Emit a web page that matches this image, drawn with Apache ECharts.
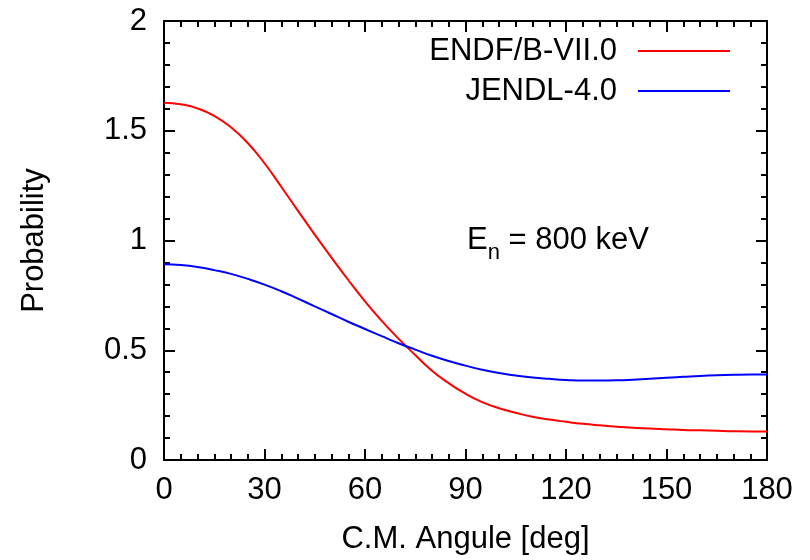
<!DOCTYPE html>
<html>
<head>
<meta charset="utf-8">
<script src="https://cdn.jsdelivr.net/npm/echarts@6/dist/echarts.min.js"></script>
<style>
  html, body { margin: 0; padding: 0; background: #fff; }
  #chart { width: 810px; height: 560px; }
</style>
</head>
<body>
<div id="chart"></div>
<script>
// angles in degrees (C.M.)
const angles = [0, 5, 10, 15, 20, 25, 30, 35, 40, 45, 50, 55, 60, 65, 70, 75, 80, 85, 90,
  95, 100, 105, 110, 115, 120, 125, 130, 135, 140, 145, 150, 155, 160, 165, 170, 175, 180]
// ENDF/B-VII.0
const endf = [1.628, 1.621, 1.602, 1.568, 1.516, 1.444, 1.352, 1.245, 1.135, 1.027, 0.922,
  0.820, 0.723, 0.634, 0.553, 0.478, 0.407, 0.350, 0.302, 0.264, 0.236, 0.215, 0.197,
  0.184, 0.174, 0.165, 0.158, 0.152, 0.147, 0.143, 0.140, 0.137, 0.135, 0.133, 0.131,
  0.130, 0.130]
// JENDL-4.0
const jendl = [0.892, 0.888, 0.879, 0.865, 0.848, 0.825, 0.799, 0.769, 0.735, 0.700, 0.665,
  0.630, 0.597, 0.564, 0.532, 0.503, 0.475, 0.451, 0.430, 0.411, 0.396, 0.385, 0.376,
  0.370, 0.365, 0.362, 0.362, 0.363, 0.366, 0.370, 0.375, 0.379, 0.383, 0.386, 0.388,
  0.389, 0.389]
const seriesNames = ['ENDF/B-VII.0', 'JENDL-4.0']
const seriesColors = ['#ff0000', '#0000ff']

const font = 'Liberation Sans, Arial, sans-serif'
const fs = 31

const chart = echarts.init(document.getElementById('chart'))

const xBase = {
  type: 'value', min: 0, max: 180, interval: 30,
  axisLine: { show: true, onZero: false, lineStyle: { color: '#000', width: 2 } },
  axisTick: { show: true, inside: true, length: 11, lineStyle: { color: '#000', width: 2 } },
  minorTick: { show: true, splitNumber: 6, length: 6, lineStyle: { color: '#000', width: 2 } },
  splitLine: { show: false }
}
const yBase = {
  type: 'value', min: 0, max: 2, interval: 0.5,
  axisLine: { show: true, onZero: false, lineStyle: { color: '#000', width: 2 } },
  axisTick: { show: true, inside: true, length: 11, lineStyle: { color: '#000', width: 2 } },
  minorTick: { show: true, splitNumber: 5, length: 6, lineStyle: { color: '#000', width: 2 } },
  splitLine: { show: false }
}

const legendFor = (name, top) => ({
  data: [name],
  orient: 'vertical',
  right: 80,
  top: top,
  padding: 0,
  align: 'right',
  icon: 'rect',
  itemWidth: 92,
  itemHeight: 2,
  selectedMode: false,
  textStyle: { fontFamily: font, fontSize: fs, color: '#000', lineHeight: 32, padding: [0, 16, 0, 0] }
})

chart.setOption({
  animation: false,
  grid: { left: 164, right: 43, top: 21, bottom: 99 },
  xAxis: [
    Object.assign({}, xBase, {
      position: 'bottom',
      name: 'C.M. Angule [deg]',
      nameLocation: 'middle',
      nameGap: 64,
      nameTextStyle: { fontFamily: font, fontSize: fs, color: '#000' },
      axisLabel: { fontFamily: font, fontSize: fs, color: '#000', margin: 15 }
    }),
    Object.assign({}, xBase, { position: 'top', axisLabel: { show: false } })
  ],
  yAxis: [
    Object.assign({}, yBase, {
      position: 'left',
      name: 'Probability',
      nameLocation: 'middle',
      nameGap: 114,
      nameTextStyle: { fontFamily: font, fontSize: fs, color: '#000' },
      axisLabel: { fontFamily: font, fontSize: fs, color: '#000', margin: 17 }
    }),
    Object.assign({}, yBase, { position: 'right', axisLabel: { show: false } })
  ],
  legend: [legendFor(seriesNames[0], 35), legendFor(seriesNames[1], 75)],
  graphic: [{
    type: 'text',
    left: 467,
    top: 225,
    style: {
      text: '{e|E}{n|n}{e| = 800 keV}',
      rich: {
        e: { fontFamily: font, fontSize: fs, fill: '#000', verticalAlign: 'top', lineHeight: 32 },
        n: { fontFamily: font, fontSize: 22, fill: '#000', verticalAlign: 'top', lineHeight: 32, padding: [17, 0, 0, 0] }
      }
    }
  }],
  series: [
    {
      name: seriesNames[0], type: 'line', smooth: 0.5, showSymbol: false,
      data: angles.map((a, i) => [a, endf[i]]),
      lineStyle: { color: seriesColors[0], width: 2 },
      itemStyle: { color: seriesColors[0] }
    },
    {
      name: seriesNames[1], type: 'line', smooth: 0.5, showSymbol: false,
      data: angles.map((a, i) => [a, jendl[i]]),
      lineStyle: { color: seriesColors[1], width: 2 },
      itemStyle: { color: seriesColors[1] }
    }
  ]
})
</script>
</body>
</html>
